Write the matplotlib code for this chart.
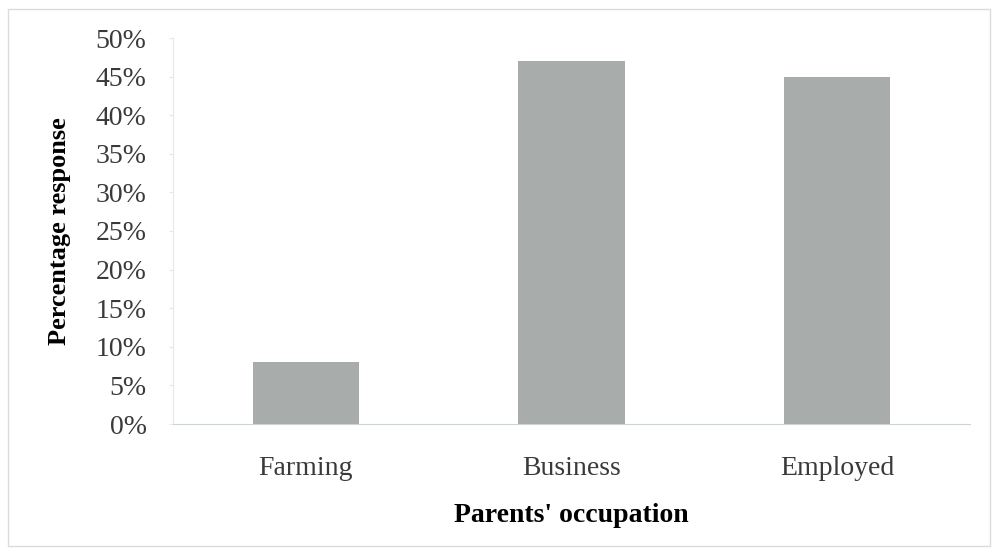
import matplotlib
matplotlib.use("Agg")
import matplotlib.pyplot as plt
from matplotlib.patches import Rectangle
from matplotlib.ticker import FuncFormatter

# chart data
categories = ["Farming", "Business", "Employed"]
values = [8, 47, 45]
y_ticks = [0, 5, 10, 15, 20, 25, 30, 35, 40, 45, 50]

plt.rcParams["font.family"] = ["Liberation Serif", "DejaVu Serif"]

fig = plt.figure(figsize=(9.93, 5.54), dpi=100)
ax = fig.add_axes([173 / 993, 1 - 424 / 554, (970 - 173) / 993, (424 - 38) / 554])

ax.bar(range(len(categories)), values, width=0.4, color="#a8acab", zorder=2)

ax.set_xlim(-0.5, len(categories) - 0.5)
ax.set_ylim(0, 50)
ax.set_yticks(y_ticks)
ax.yaxis.set_major_formatter(FuncFormatter(lambda v, _: f"{int(v)}%"))
ax.set_xticks(range(len(categories)))
ax.set_xticklabels(categories)

for side in ["top", "right"]:
    ax.spines[side].set_visible(False)
ax.spines["left"].set_color("#e6e8e8")
ax.spines["bottom"].set_color("#c8d4d6")
ax.tick_params(axis="y", length=3, color="#e6e8e8", labelsize=20, labelcolor="#3a3a3a", pad=16)
ax.tick_params(axis="x", length=0, labelsize=20, labelcolor="#3a3a3a", pad=23)

ax.set_ylabel("Percentage response", fontsize=19, fontweight="bold", va="center")
ax.yaxis.set_label_coords(-0.142, 0.5)
ax.set_xlabel("Parents' occupation", fontsize=20, fontweight="bold", va="center")
ax.xaxis.set_label_coords(0.5, -0.238)

# light frame around the whole chart
fig.patches.append(Rectangle((8 / 993, 8 / 554), 982 / 993, 537 / 554,
                             transform=fig.transFigure, fill=False,
                             edgecolor="#d8dcdc", linewidth=1))

fig.savefig("out.png", dpi=100)
